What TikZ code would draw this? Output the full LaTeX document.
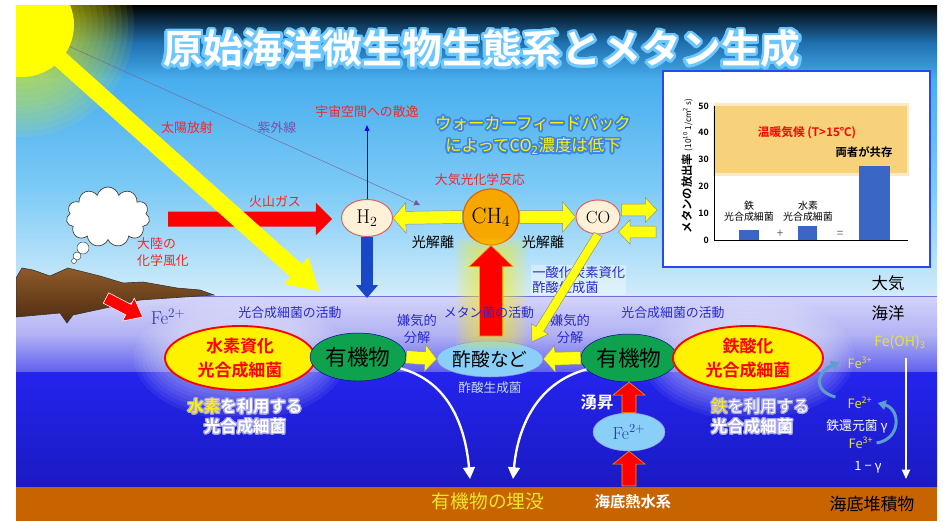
\documentclass[tikz,border=0pt]{standalone}
\usepackage{fontspec}
\newfontfamily\jp{Noto Sans CJK JP}[BoldFont={Noto Sans CJK JP Bold}]
\usepackage[copies]{contour}
\contournumber{24}
\contourlength{1.4pt}
\usetikzlibrary{calc,arrows.meta,shapes.geometric,shapes.symbols,positioning}
\definecolor{skydark}{HTML}{1F6FAE}
\definecolor{skydeep}{HTML}{48AEEE}
\definecolor{skymid}{HTML}{7CCAF6}
\definecolor{skylow}{HTML}{D2ECFA}
\definecolor{seatop}{HTML}{D4D4FA}
\definecolor{seamid}{HTML}{B2B2F4}
\definecolor{seaband}{HTML}{6060EE}
\definecolor{deeptop}{HTML}{2424EE}
\definecolor{deepbot}{HTML}{1A1AC2}
\definecolor{seaedge}{HTML}{7070E0}
\definecolor{sediment}{HTML}{C86400}
\definecolor{sunyellow}{HTML}{FFFF00}
\definecolor{landtop}{HTML}{8E5A2A}
\definecolor{landbot}{HTML}{4E2C10}
\definecolor{labred}{HTML}{F02828}
\definecolor{uvpurple}{HTML}{7A4FB0}
\definecolor{labblue}{HTML}{2A2ACC}
\definecolor{fenavy}{HTML}{2A3AB0}
\definecolor{gasfill}{HTML}{FFF0D8}
\definecolor{gasrim}{HTML}{E05A5A}
\definecolor{ch4fill}{HTML}{F7A800}
\definecolor{ch4rim}{HTML}{E56000}
\definecolor{arrowyel}{HTML}{FFFF10}
\definecolor{h2blue}{HTML}{1848C8}
\definecolor{orggreen}{HTML}{0FA24E}
\definecolor{acidblue}{HTML}{8ACFF8}
\definecolor{acetext}{HTML}{C8D8FF}
\definecolor{fecycle}{HTML}{5C9ECC}
\definecolor{feyel}{HTML}{E6E040}
\definecolor{buryel}{HTML}{F2E62A}
\definecolor{panelblue}{HTML}{2A48F0}
\definecolor{bandorange}{HTML}{F8D27A}
\definecolor{barblue}{HTML}{3A66C6}
\definecolor{titleglow}{HTML}{6CC6FF}
\definecolor{walkglow}{HTML}{3D86E6}
\definecolor{textglow}{HTML}{A4A4EC}
\tikzset{
  lab/.style={font=\jp\fontsize{11}{15}\selectfont, inner sep=0pt},
  redlab/.style={lab, text=labred},
  bluelab/.style={lab, text=labblue},
  gasnode/.style={ellipse, draw=gasrim, line width=0.8pt, fill=gasfill, inner sep=0pt},
  bact/.style={ellipse, draw=red, line width=1.6pt, fill=yellow, inner sep=0pt,
    minimum width=4.5cm, minimum height=1.92cm, text=red, align=center,
    font=\jp\bfseries\fontsize{14.5}{20.5}\selectfont},
  organic/.style={ellipse, draw=blue!55!black, line width=0.4pt, fill=orggreen, inner sep=0pt,
    minimum width=2.88cm, minimum height=1.44cm, font=\jp\fontsize{18.5}{20}\selectfont},
  fatyellow/.style={fill=arrowyel, draw=black!45, line width=0.4pt},
  fatred/.style={fill=red, draw=orange!80!yellow, line width=0.5pt},
  burialarrow/.style={draw=white, line width=2pt, -{Triangle[width=10pt,length=10pt]}},
  ironturn/.style={draw=fecycle, line width=2.6pt, -{Triangle[width=8pt,length=7pt]}},
  felab/.style={font=\jp\fontsize{11}{11}\selectfont, text=feyel, inner sep=0pt},
  ticklab/.style={font=\jp\bfseries\fontsize{7.5}{8}\selectfont, inner sep=0pt, anchor=east},
}
% wide arrow: tail, tip, half shaft, half head, head length
\newcommand{\fatarrow}[6][]{%
  \coordinate (fa-base) at ($(#3)!#6!(#2)$);
  \filldraw[#1] ($(#2)!#4!90:(#3)$) -- ($(fa-base)!#4!90:(#3)$)
    -- ($(fa-base)!#5!90:(#3)$) -- (#3) -- ($(fa-base)!#5!-90:(#3)$)
    -- ($(fa-base)!#4!-90:(#3)$) -- ($(#2)!#4!-90:(#3)$) -- cycle;}

\begin{document}
\begin{tikzpicture}[x=0.03cm, y=-0.03cm]
\useasboundingbox (0,0) rectangle (943,521);
\fill[white] (0,0) rectangle (943,521);
\coordinate (sunc) at (22,25);

% sky, sea, sediment
\begin{scope}
  \clip (16,5) rectangle (937,521);
  \shade[top color=black, bottom color=skydeep, middle color=skydark] (16,5) rectangle (937,80);
  \shade[top color=skydeep, bottom color=skylow, middle color=skymid] (16,79.6) rectangle (937,296);
  \foreach \r in {58,64,...,112}
    \fill[sunyellow, opacity=0.07] (sunc) circle (\r);
  \shade[top color=seatop, bottom color=seaband, middle color=seamid] (16,296) rectangle (937,372);
  \shade[top color=deeptop, bottom color=deepbot] (16,372) rectangle (937,487);
  \fill[sediment] (16,487) rectangle (937,521);
  \draw[seaedge, line width=0.8pt] (16,296) -- (937,296);
  % haze round the bacteria
  \foreach \g in {0,...,7} {
    \fill[white, opacity=0.06] (240,358) ellipse ({78+4*\g} and {34+4*\g});
    \fill[white, opacity=0.06] (748,358) ellipse ({78+4*\g} and {34+4*\g});
  }
  % land
  \shadedraw[top color=landtop, bottom color=landbot, draw=black!80, line width=0.5pt]
    (16,278) -- (22,268) -- (33,270) -- (50,276) -- (68,268) -- (100,276) -- (123,283)
    -- (143,282) -- (177,288) -- (200,290) -- (214,295) -- (140,300) -- (110,307)
    -- (73,315) -- (67,323) -- (60,313) -- (16,317) -- cycle;
\end{scope}

\node[font=\jp\bfseries\fontsize{34}{36}\selectfont, text=white] (title) at (482,50)
  {\contourlength{2.2pt}\contour{titleglow}{原始海洋微生物生態系とメタン生成}};

% atmosphere
\node[redlab] (solar) at (187,128) {太陽放射};
\node[lab, text=uvpurple] (uv) at (277,128) {紫外線};
\node[redlab] (space) at (367,112) {宇宙空間への散逸};
\node[redlab] (volcano) at (275,202) {火山ガス};
\node[redlab, align=left, anchor=north west] (weather) at (137,237) {大陸の\\化学風化};
\node[redlab] (photo) at (480,180) {大気光化学反応};
\node[font=\jp\fontsize{14}{19}\selectfont, text=yellow, align=center] (walker) at (533,136)
  {\contour{walkglow}{ウォーカーフィードバック}\\
   \contour{walkglow}{によってCO\textsubscript{2}濃度は低下}};

\node[gasnode, minimum width=1.53cm, minimum height=1.11cm, font=\fontsize{17}{17}\selectfont]
  (h2) at (367,218) {H\textsubscript{2}};
\node[circle, fill=ch4fill, draw=ch4rim, line width=1pt, minimum size=1.68cm, inner sep=0pt,
  font=\fontsize{19}{19}\selectfont] (ch4) at (491,217) {CH\textsubscript{4}};
\node[gasnode, minimum width=1.32cm, minimum height=1.02cm, font=\fontsize{15}{15}\selectfont]
  (co) at (598,217) {CO};
\node[lab, font=\jp\fontsize{12}{12}\selectfont] (split1) at (433,242) {光解離};
\node[lab, font=\jp\fontsize{12}{12}\selectfont] (split2) at (543,242) {光解離};

% cloud
\node[cloud, cloud puffs=11, aspect=1.4, draw=black!75, fill=white, line width=0.6pt,
  minimum width=2.5cm, minimum height=1.8cm, inner sep=0pt] (cloud) at (108,217) {};
\node[circle, draw=black!75, fill=white, minimum size=0.36cm, inner sep=0pt] (puffa) at (83,248) {};
\node[circle, draw=black!75, fill=white, minimum size=0.24cm, inner sep=0pt] (puffb) at (77,256) {};
\node[circle, draw=black!75, fill=white, minimum size=0.15cm, inner sep=0pt] (puffc) at (74,261) {};

% volcanic gas, then sunlight across it
\coordinate (volcsrc) at (168,219);
\coordinate (volctip) at ($(h2.west)+(-9,1)$);
\fatarrow[fill=red, draw=none]{volcsrc}{volctip}{6.4pt}{13.7pt}{13.7pt}
\coordinate (uvtip) at (420,205);
\draw[draw=uvpurple!50!gray, line width=0.4pt, -{Triangle[width=5pt,length=5pt,fill=uvpurple]}]
  (sunc) -- (uvtip);
\coordinate (beamtip) at (319,291);
\fatarrow[fill=sunyellow, draw=none]{sunc}{beamtip}{7.3pt}{15.4pt}{26pt}
\begin{scope}
  \clip (16,5) rectangle (937,521);
  \node[circle, fill=sunyellow, minimum size=3.12cm, inner sep=0pt] (sun) at (sunc) {};
\end{scope}

% hydrogen loss and rain-out
\coordinate (escape) at (367,125);
\draw[blue, line width=0.8pt, -{Triangle[width=4pt,length=5pt]}] (h2.north) -- (escape);
\coordinate (h2sea) at (367,298);
\fatarrow[fill=h2blue, draw=none]{h2.south}{h2sea}{5pt}{9.4pt}{11pt}

\fatarrow[fatyellow]{ch4.west}{h2.east}{5.5pt}{13pt}{11pt}
\fatarrow[fatyellow]{ch4.east}{co.west}{5.5pt}{13pt}{11pt}

% plot panel
\node[draw=panelblue, line width=1.5pt, fill=white, minimum width=8.01cm, minimum height=5.88cm,
  inner sep=0pt] (plot) at (796.5,169) {};
\coordinate (coout) at ($(co.east)+(1,-7)$);
\coordinate (toplot) at ($(plot.west)+(-5,41)$);
\coordinate (fromplot) at ($(plot.west)+(-6,63)$);
\coordinate (coin) at ($(co.east)+(-2,15)$);
\fatarrow[fatyellow]{coout}{toplot}{5pt}{10.5pt}{10pt}
\fatarrow[fatyellow]{fromplot}{coin}{5pt}{10.5pt}{10pt}

\begin{scope}[shift={(714,240)}]
  \fill[bandorange, opacity=0.45] (-1,-64) rectangle (195,-137);
  \fill[bandorange] (1,-67) rectangle (193,-134);
  \fill[barblue] (25,0) rectangle (45,-10);
  \fill[barblue] (84,0) rectangle (103,-14);
  \fill[barblue] (145,0) rectangle (176,-74);
  \draw[line width=0.6pt] (0,-134) -- (0,0) -- (194,0);
  \foreach \v in {0,10,...,50}
    \node[ticklab] at (-5,{-2.68*\v}) {\v};
\end{scope}
\node[font=\jp\bfseries\fontsize{10}{12}\selectfont, text=red] (warm) at (807,133) {温暖気候 (T>15℃)};
\node[font=\jp\bfseries\fontsize{9.7}{12}\selectfont] (both) at (864,152) {両者が共存};
\node[font=\jp\fontsize{8.5}{9.4}\selectfont, align=center] (felab) at (749,211) {鉄\\光合成細菌};
\node[font=\jp\fontsize{8.5}{9.4}\selectfont, align=center] (h2lab) at (808,211) {水素\\光合成細菌};
\node[font=\jp\fontsize{10}{10}\selectfont, text=black!60] (plus) at (780,234) {+};
\node[font=\jp\fontsize{10}{10}\selectfont, text=black!60] (equal) at (840,234) {=};
\node[rotate=90, font=\jp\bfseries\fontsize{9.7}{10}\selectfont] (ylab) at (687,166)
  {メタンの放出率 {\mdseries\fontsize{7}{8}\selectfont (10\textsuperscript{10} 1/cm\textsuperscript{2} s)}};

% sea
\node[bluelab] (photoact1) at (290,313) {光合成細菌の活動};
\node[bluelab] (photoact2) at (673,313) {光合成細菌の活動};
\node[bluelab, align=center, font=\jp\fontsize{11.3}{14.5}\selectfont] (anaer1) at (417,329) {嫌気的\\分解};
\node[bluelab, align=center, font=\jp\fontsize{11.3}{14.5}\selectfont] (anaer2) at (570,329) {嫌気的\\分解};

\node[font=\fontsize{16}{16}\selectfont, text=fenavy] (fesurf) at (168,317) {Fe\textsuperscript{2+}};
\coordinate (landfe) at (106,298);
\coordinate (fesurftip) at ($(fesurf.west)+(-4,0)$);
\fatarrow[fill=red, draw=white, line width=0.5pt]{landfe}{fesurftip}{5pt}{11pt}{13.7pt}

\node[bact] (h2bact) at (240,358) {水素資化\\光合成細菌};
\node[organic] (orgl) at (358,357) {有機物};
\node[organic] (orgr) at (629,358) {有機物};
\node[bact] (febact) at (748,358) {鉄酸化\\光合成細菌};
\node[ellipse, fill=acidblue, draw=blue!50, line width=0.4pt, minimum width=3.12cm,
  minimum height=1.08cm, inner sep=0pt, font=\jp\fontsize{16}{16}\selectfont] (acid) at (490,359) {酢酸など};
\node[lab, text=acetext, font=\jp\fontsize{10.8}{11}\selectfont, below=4pt of acid] (acetogen) {酢酸生成菌};
\fatarrow[fatyellow]{orgl.east}{acid.west}{5.5pt}{11.5pt}{10pt}
\fatarrow[fatyellow]{orgr.west}{acid.east}{5.5pt}{11.5pt}{10pt}

% methanogens below CH4
\foreach \g in {1,...,7}
  \fill[yellow, opacity=0.09, rounded corners=6pt] ({480-3.5*\g},{252-2*\g}) rectangle ({502+3.5*\g},{336+2*\g});
\coordinate (methsrc) at (491,336);
\fatarrow[fatred]{methsrc}{ch4.south}{9.8pt}{18.8pt}{18pt}
\node[bluelab] (methact) at (489,313) {メタン菌の活動};

% CO-using acetogens
\node[bluelab, align=left, anchor=west, fill=white, fill opacity=0.35, text opacity=1, inner sep=1pt,
  font=\jp\fontsize{11.3}{12.8}\selectfont] (cobac) at (531,280) {一酸化炭素資化\\酢酸生成菌};
\coordinate (acidin) at ($(acid.north)+(42,1)$);
\fatarrow[fatyellow]{co.south}{acidin}{3.8pt}{8.5pt}{12.8pt}

\node[font=\jp\bfseries\fontsize{14}{17}\selectfont, text=white, align=center] (h2use) at (245,417)
  {\contourlength{1pt}{\color{yellow}\contour{textglow}{水素}}\contour{textglow}{を利用する}\\
   \contourlength{1pt}\contour{textglow}{光合成細菌}};
\node[font=\jp\fontsize{14}{17}\selectfont, text=white, align=left, anchor=west] (feuse) at (707,417)
  {\contourlength{1pt}{\color{yellow}\contour{textglow}{鉄}}\contour{textglow}{を利用する}\\
   \contourlength{1pt}{\bfseries\contour{textglow}{光合成細菌}}};

% burial
\coordinate (burl) at (470,479);
\coordinate (burr) at (513,479);
\draw[burialarrow] (orgl.-15) to[out=-15, in=95] (burl);
\draw[burialarrow] (orgr.195) to[out=195, in=85] (burr);

% upwelling from vents
\node[ellipse, fill=acidblue, draw=blue!40, line width=0.4pt, minimum width=2.16cm, minimum height=1.14cm,
  inner sep=0pt, font=\fontsize{15}{15}\selectfont, text=fenavy] (fedeep) at (629,432) {Fe\textsuperscript{2+}};
\coordinate (vent) at (629,486);
\fatarrow[fatred]{vent}{fedeep.south}{6pt}{13.7pt}{11pt}
\fatarrow[fatred]{fedeep.north}{orgr.south}{6pt}{13.7pt}{11pt}
\node[font=\jp\bfseries\fontsize{14}{14}\selectfont, text=white] (upwell) at (597,402) {湧昇};
\node[font=\jp\fontsize{16}{16}\selectfont, text=buryel] (burial) at (488,501) {有機物の埋没};
\node[font=\jp\bfseries\fontsize{13}{13}\selectfont, text=white] (vents) at (633,502) {海底熱水系};

% iron cycle
\node[felab, font=\jp\fontsize{12}{12}\selectfont] (feoh) at (900,342) {Fe(OH)\textsubscript{3}};
\node[felab] (fe3a) at (860,363) {Fe\textsuperscript{3+}};
\node[felab] (fe2b) at (860,403) {Fe\textsuperscript{2+}};
\node[lab, text=white] (fered) at (857,426) {鉄還元菌 γ};
\node[felab] (fe3b) at (861,443) {Fe\textsuperscript{3+}};
\node[lab, text=white] (oneminus) at (868,467) {1 − γ};
\coordinate (sinktop) at (906,358);
\coordinate (sinkbot) at (906,479);
\draw[white, line width=1.5pt, -{Triangle[width=7pt,length=8pt]}] (sinktop) -- (sinkbot);
\draw[ironturn] ($(fe2b.west)+(-12,-6)$) .. controls ($(fe2b.west)+(-34,-12)$) and ($(fe3a.west)+(-32,10)$) .. ($(fe3a.west)+(-8,-1)$);
\draw[ironturn] ($(fe3b.east)+(3,0)$) .. controls ($(fe3b.east)+(28,-4)$) and ($(fe2b.east)+(28,6)$) .. ($(fe2b.east)+(5,0)$);

\node[font=\jp\fontsize{14}{14}\selectfont] (air) at (888,283) {大気};
\node[font=\jp\fontsize{14}{14}\selectfont] (ocean) at (888,313) {海洋};
\node[font=\jp\fontsize{14.5}{14.5}\selectfont] (sedlab) at (872,504) {海底堆積物};
\end{tikzpicture}
\end{document}
